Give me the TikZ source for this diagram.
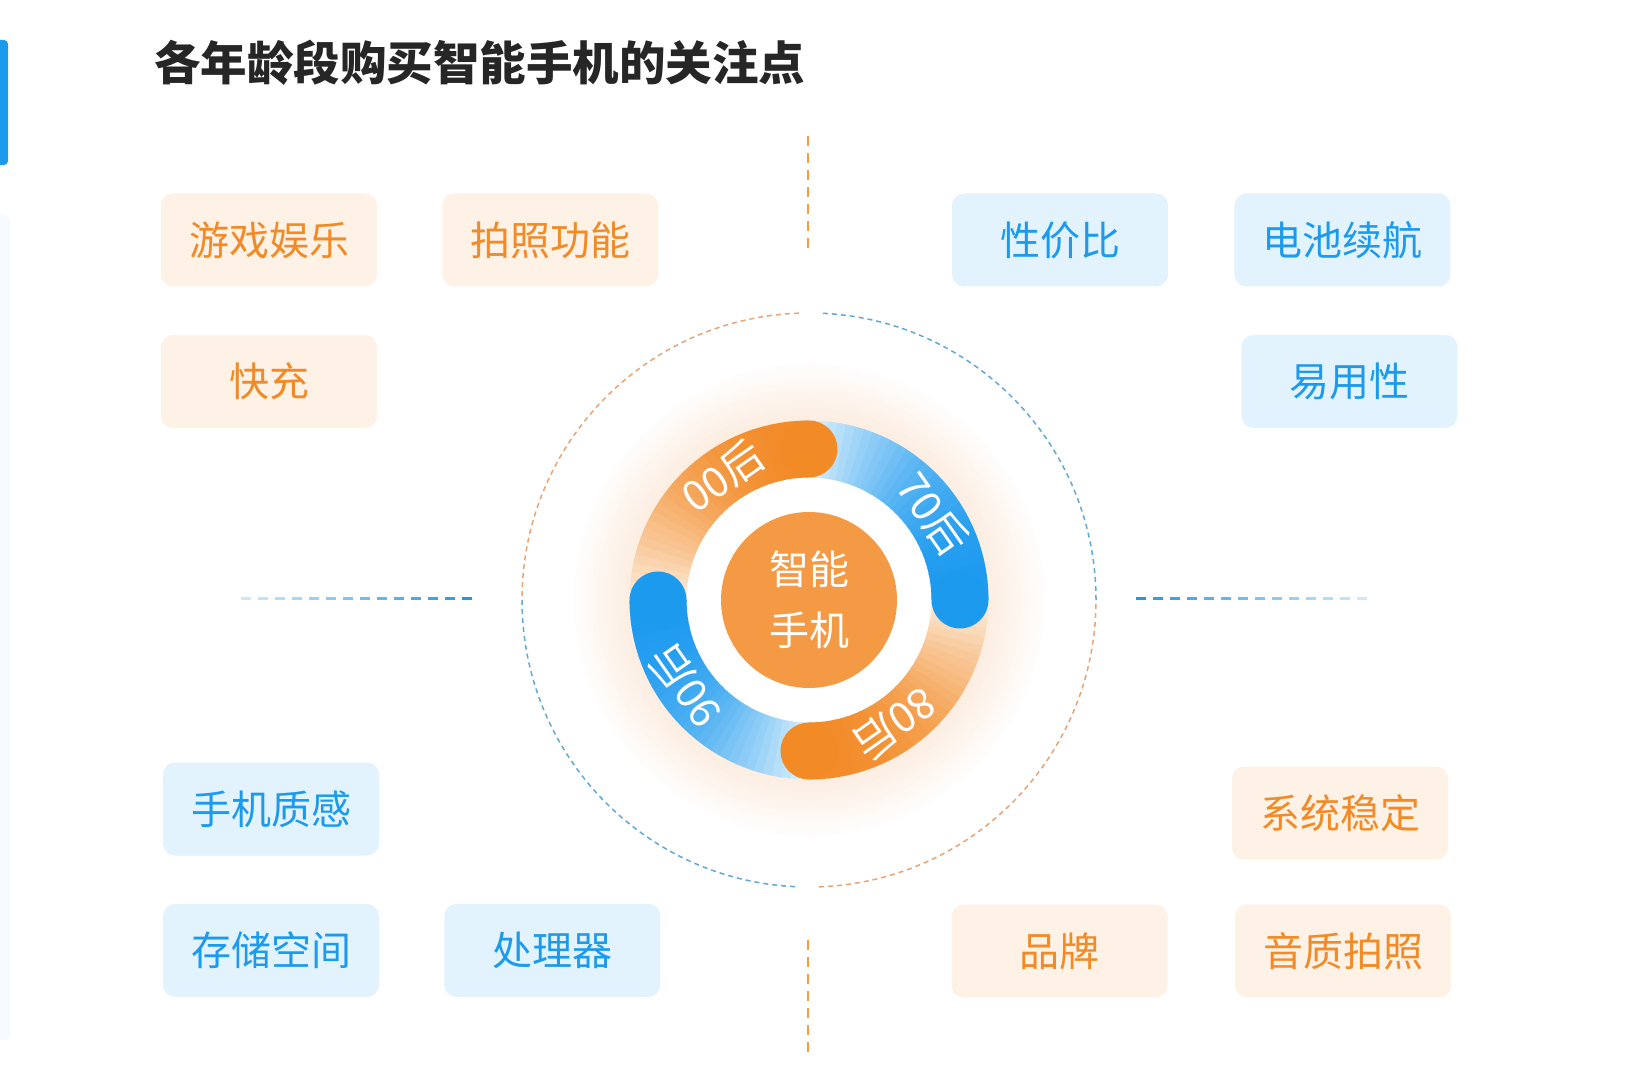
\documentclass[tikz,border=0pt]{standalone}
\usepackage{fontspec}
\newfontfamily\cjk{Noto Sans CJK SC}
\usetikzlibrary{positioning}
\definecolor{corange}{HTML}{F28A26}
\definecolor{cblue}{HTML}{1C9AEE}
\definecolor{cofill}{HTML}{FEF1E6}
\definecolor{cbfill}{HTML}{E3F3FD}
\definecolor{ctitle}{HTML}{262626}
\definecolor{ccore}{HTML}{F49A45}
\definecolor{cglow}{HTML}{FCEEE2}
\definecolor{codash}{HTML}{E8A475}
\definecolor{cbdash}{HTML}{62A9D4}
\tikzset{
  every picture/.style={x=1pt, y=1pt},
  box/.style={rounded corners=12pt, minimum width=216pt, minimum height=93pt, inner sep=0pt, font=\cjk\fontsize{40}{44}\selectfont},
  obox/.style={box, fill=cofill, text=corange},
  bbox/.style={box, fill=cbfill, text=cblue},
  title/.style={font=\cjk\bfseries\fontsize{46.5}{52}\selectfont, text=ctitle, inner sep=0pt},
  vdash/.style={draw=corange!85, line width=2pt, dash pattern=on 10pt off 7pt},
  hdash/.style={line width=3pt},
  dcirc/.style={line width=1.5pt, dash pattern=on 5pt off 4pt},
}

\begin{document}
\begin{tikzpicture}[
  ring/.style={line width=57pt},
  tag/.style={font=\cjk\fontsize{42}{42}\selectfont, text=white, inner sep=0pt},
  core/.style={inner sep=0pt, align=center, text=white, font=\cjk\fontsize{40}{61}\selectfont}]
  \useasboundingbox (0,0) rectangle (1646,1080);
  \fill[white] (0,0) rectangle (1646,1080);
  % side accents
  \fill[cblue!5, rounded corners=6pt] (-10,40) rectangle (10,865);
  \fill[cblue, rounded corners=4pt] (-10,915) rectangle (8,1040);
  \node[title, anchor=west] (title) at (154,1017) {各年龄段购买智能手机的关注点};

  \coordinate (ctr) at (809,480);
  % glow and dashed outer circle
  \foreach \r in {0,...,13}{
    \pgfmathtruncatemacro\p{7*\r+10}
    \fill[cglow!\p!white] (ctr) circle[radius=236-4*\r];
  }
  \fill[white] (ctr) circle[radius=123];
  \foreach \s/\e/\cl in {92/180/codash, 180/268/cbdash, 272/360/codash, 0/88/cbdash}
    \draw[dcirc, draw=\cl] ([shift={(\s:287)}]ctr) arc[start angle=\s, end angle=\e, radius=287];

  % ring: four parts, each fading counter-clockwise from its round end
  \foreach \a/\cl in {90/corange, 180/cblue, 270/corange, 0/cblue}{
    \foreach \i in {0,...,29}{
      \pgfmathtruncatemacro\p{100-0.1*\i*\i}
      \draw[ring, draw=\cl!\p!white] ([shift={(\a+3*\i:151)}]ctr) arc[start angle=\a+3*\i, end angle=\a+3*\i+3.5, radius=151];
    }
  }
  \foreach \a/\cl in {90/corange, 180/cblue, 270/corange, 0/cblue}
    \fill[\cl] ([shift={(\a:151)}]ctr) circle[radius=28.5];
  \foreach \a/\t in {125/00后, 35/70后, 305/80后, 215/90后}
    \node[tag, rotate=\a-90] (tag\a) at ([shift={(\a:151)}]ctr) {\t};
  \fill[ccore] (ctr) circle[radius=88];
  \node[core] (core) at (ctr) {智能\\手机};

  % dividers
  \draw[vdash] (808,944) -- (808,830);
  \draw[vdash] (808,140) -- (808,25);
  \foreach \i in {0,...,13}{
    \pgfmathtruncatemacro\p{100-6*\i}
    \draw[hdash, draw=cblue!\p!white] (472-17*\i,481) -- ++(-10,0);
    \draw[hdash, draw=cblue!\p!white] (1136+17*\i,481) -- ++(10,0);
  }

  % top left
  \node[obox] (game) at (269,840) {游戏娱乐};
  \node[obox, right=65pt of game] (photo) {拍照功能};
  \node[obox, below=48pt of game] (charge) {快充};
  % top right
  \node[bbox] (value) at (1060,840) {性价比};
  \node[bbox, right=66pt of value] (battery) {电池续航};
  \node[bbox, below=48pt of battery, xshift=7pt] (ease) {易用性};
  % bottom left
  \node[bbox] (feel) at (271,271) {手机质感};
  \node[bbox, below=48pt of feel] (storage) {存储空间};
  \node[bbox, right=65pt of storage] (chip) {处理器};
  % bottom right
  \node[obox] (system) at (1340,267) {系统稳定};
  \node[obox] (audio) at (1343,129) {音质拍照};
  \node[obox, left=67pt of audio] (brand) {品牌};
\end{tikzpicture}
\end{document}
